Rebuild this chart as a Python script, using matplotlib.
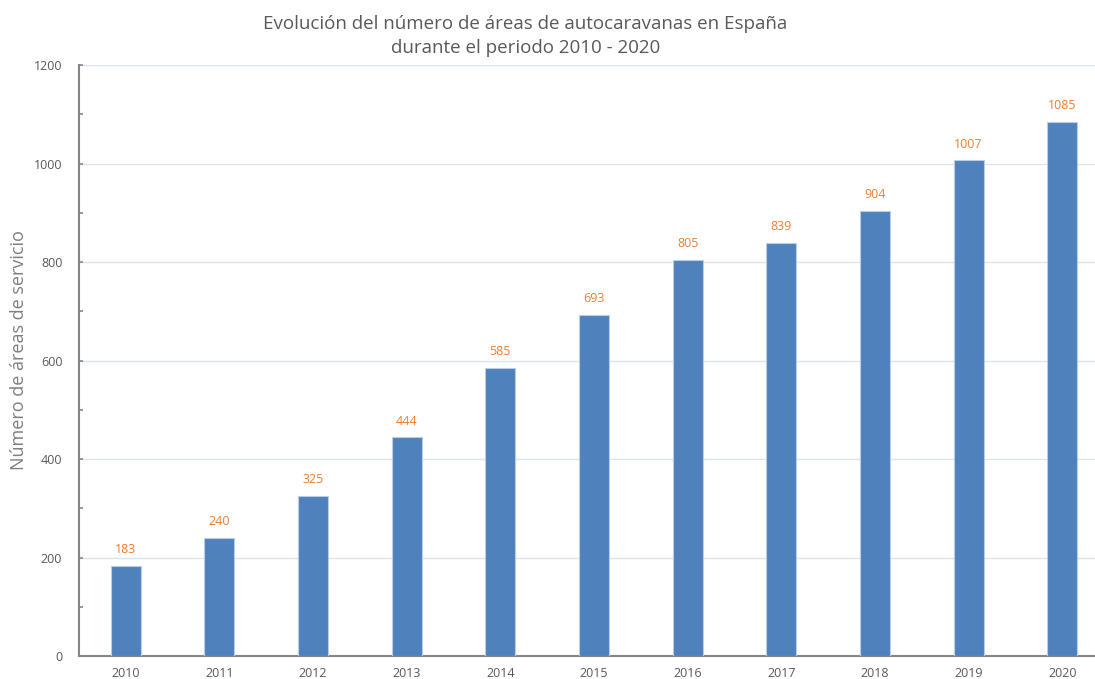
import matplotlib.pyplot as plt
from matplotlib.ticker import MultipleLocator

anios = ["2010", "2011", "2012", "2013", "2014", "2015",
         "2016", "2017", "2018", "2019", "2020"]
areas = [183, 240, 325, 444, 585, 693, 805, 839, 904, 1007, 1085]

plt.rcParams['font.family'] = ['Open Sans', 'DejaVu Sans']

fig = plt.figure(figsize=(10.95, 6.79), dpi=100)
ax = fig.add_axes([0.0721, 0.0339, 0.9279, 0.870])

x = range(len(anios))
barras = ax.bar(x, areas, width=0.32, color="#4F81BD",
                edgecolor="#B9CDE5", linewidth=0.8, zorder=3)

for xi, v in zip(x, areas):
    ax.annotate(str(v), (xi, v), xytext=(0, 7), textcoords="offset points",
                ha="center", va="bottom", fontsize=9, color="#ED7D31")

ax.set_xlim(-0.5, 10.35)
ax.set_ylim(0, 1200)
ax.set_xticks(list(x))
ax.set_xticklabels(anios)
ax.yaxis.set_major_locator(MultipleLocator(200))
ax.yaxis.set_minor_locator(MultipleLocator(100))

ax.grid(axis='y', color="#DCE3EC", linewidth=1.0, zorder=0)
for s in ["top", "right"]:
    ax.spines[s].set_visible(False)
for s in ["left", "bottom"]:
    ax.spines[s].set_color("#868686")
    ax.spines[s].set_linewidth(1.5)

ax.tick_params(axis='y', which='both', direction='in', length=3,
               width=1.2, color="#868686", labelsize=9,
               labelcolor="#595959", pad=12)
ax.tick_params(axis='x', length=0, labelsize=9,
               labelcolor="#595959", pad=8)

fig.text(0.017, 0.485, "Número de áreas de servicio", rotation=90,
         ha="center", va="center", fontsize=13, color="#7F7F7F")

fig.text(0.48, 0.978,
         "Evolución del número de áreas de autocaravanas en España\n"
         "durante el periodo 2010 - 2020",
         ha="center", va="top", fontsize=13.5, color="#595959",
         linespacing=1.45)

fig.savefig("out.png", dpi=100)
